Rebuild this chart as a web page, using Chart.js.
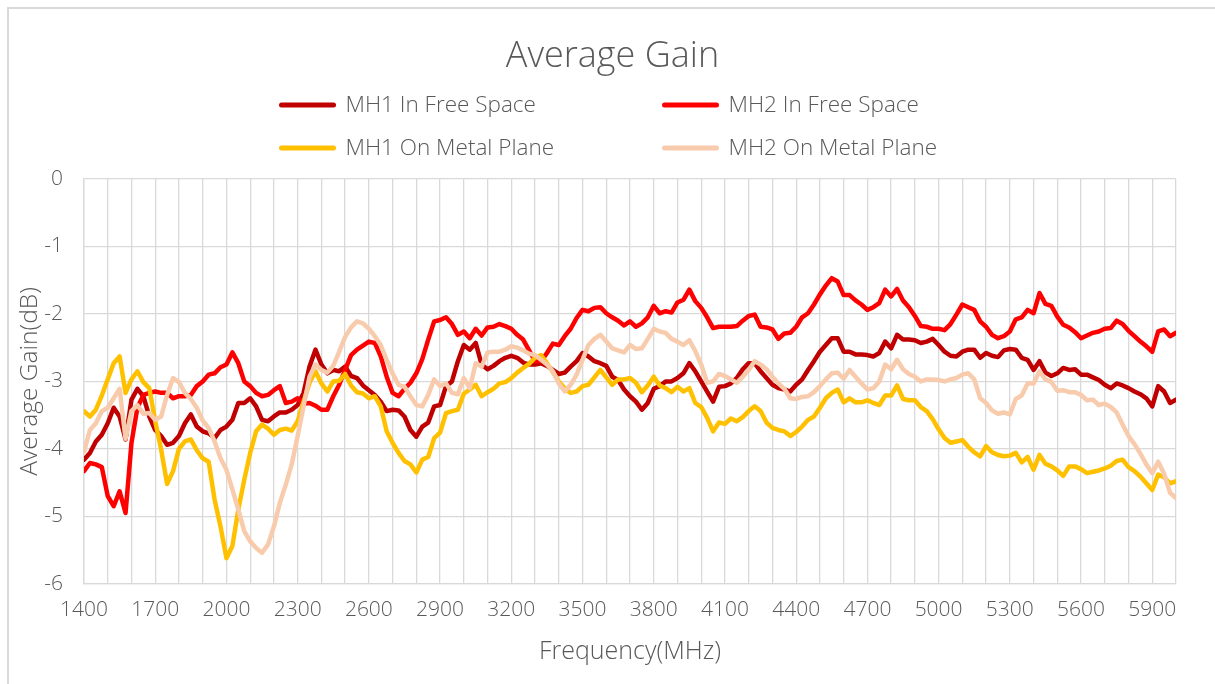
<!DOCTYPE html>
<html>
<head>
<meta charset="utf-8">
<title>Average Gain</title>
<script src="https://cdn.jsdelivr.net/npm/chart.js@4/dist/chart.umd.min.js"></script>
<style>
    html, body { margin: 0; padding: 0; background: #fff; }
    .wrap { position: relative; width: 1215px; height: 684px; overflow: hidden; }
    .frame { position: absolute; left: 7px; top: 7px; width: 1220px; height: 690px; border: 2px solid #d9d9d9; box-sizing: border-box; }
    canvas { position: absolute; left: 0; top: 0; }
</style>
</head>
<body>
<div class="wrap">
    <div class="frame"></div>
    <canvas id="gainChart" width="1215" height="684"></canvas>
</div>
<script>
// Frequency points (MHz)
const freqs = [
    1400, 1425, 1450, 1475, 1500, 1525, 1550, 1575, 1600, 1625, 1650, 1675, 1700, 1725, 1750, 1775,
    1800, 1825, 1850, 1875, 1900, 1925, 1950, 1975, 2000, 2025, 2050, 2075, 2100, 2125, 2150, 2175,
    2200, 2225, 2250, 2275, 2300, 2325, 2350, 2375, 2400, 2425, 2450, 2475, 2500, 2525, 2550, 2575,
    2600, 2625, 2650, 2675, 2700, 2725, 2750, 2775, 2800, 2825, 2850, 2875, 2900, 2925, 2950, 2975,
    3000, 3025, 3050, 3075, 3100, 3125, 3150, 3175, 3200, 3225, 3250, 3275, 3300, 3325, 3350, 3375,
    3400, 3425, 3450, 3475, 3500, 3525, 3550, 3575, 3600, 3625, 3650, 3675, 3700, 3725, 3750, 3775,
    3800, 3825, 3850, 3875, 3900, 3925, 3950, 3975, 4000, 4025, 4050, 4075, 4100, 4125, 4150, 4175,
    4200, 4225, 4250, 4275, 4300, 4325, 4350, 4375, 4400, 4425, 4450, 4475, 4500, 4525, 4550, 4575,
    4600, 4625, 4650, 4675, 4700, 4725, 4750, 4775, 4800, 4825, 4850, 4875, 4900, 4925, 4950, 4975,
    5000, 5025, 5050, 5075, 5100, 5125, 5150, 5175, 5200, 5225, 5250, 5275, 5300, 5325, 5350, 5375,
    5400, 5425, 5450, 5475, 5500, 5525, 5550, 5575, 5600, 5625, 5650, 5675, 5700, 5725, 5750, 5775,
    5800, 5825, 5850, 5875, 5900, 5925, 5950, 5975, 6000
];

// Average gain (dB)
const mh1Free = [
    -4.16, -4.06, -3.89, -3.79, -3.62, -3.39, -3.52, -3.86, -3.27, -3.11, -3.22, -3.52, -3.72, -3.81, -3.94, -3.91,
    -3.81, -3.62, -3.49, -3.67, -3.74, -3.77, -3.84, -3.72, -3.67, -3.57, -3.32, -3.32, -3.25, -3.37, -3.57, -3.59,
    -3.52, -3.46, -3.46, -3.42, -3.35, -3.17, -2.78, -2.53, -2.75, -2.88, -2.83, -2.85, -2.78, -2.92, -2.95, -3.06,
    -3.13, -3.20, -3.30, -3.44, -3.42, -3.43, -3.52, -3.72, -3.82, -3.67, -3.61, -3.37, -3.35, -3.07, -3.00, -2.70,
    -2.46, -2.53, -2.43, -2.75, -2.82, -2.77, -2.70, -2.65, -2.62, -2.65, -2.72, -2.75, -2.75, -2.73, -2.77, -2.83,
    -2.89, -2.87, -2.78, -2.70, -2.58, -2.63, -2.70, -2.73, -2.77, -2.93, -2.98, -3.12, -3.22, -3.30, -3.42, -3.32,
    -3.11, -3.07, -3.00, -3.00, -2.95, -2.88, -2.73, -2.85, -3.00, -3.15, -3.30, -3.08, -3.07, -3.03, -2.95, -2.82,
    -2.73, -2.73, -2.85, -2.95, -3.05, -3.10, -3.12, -3.15, -3.05, -2.97, -2.83, -2.70, -2.56, -2.46, -2.36, -2.36,
    -2.56, -2.56, -2.60, -2.60, -2.61, -2.63, -2.58, -2.41, -2.51, -2.31, -2.38, -2.38, -2.39, -2.43, -2.41, -2.37,
    -2.46, -2.56, -2.62, -2.63, -2.56, -2.53, -2.53, -2.65, -2.58, -2.62, -2.64, -2.54, -2.52, -2.53, -2.65, -2.68,
    -2.83, -2.70, -2.87, -2.92, -2.88, -2.80, -2.83, -2.82, -2.90, -2.90, -2.94, -2.98, -3.05, -3.10, -3.03, -3.06,
    -3.10, -3.15, -3.19, -3.25, -3.37, -3.07, -3.15, -3.32, -3.27
];
const mh2Free = [
    -4.33, -4.21, -4.23, -4.27, -4.70, -4.85, -4.63, -4.95, -3.91, -3.39, -3.20, -3.17, -3.15, -3.17, -3.17, -3.25,
    -3.22, -3.22, -3.20, -3.07, -3.00, -2.90, -2.88, -2.79, -2.75, -2.57, -2.73, -3.00, -3.07, -3.17, -3.22, -3.20,
    -3.13, -3.07, -3.32, -3.30, -3.25, -3.33, -3.32, -3.36, -3.42, -3.42, -3.22, -3.05, -2.83, -2.61, -2.53, -2.47,
    -2.41, -2.43, -2.63, -2.93, -3.17, -3.22, -3.11, -3.02, -2.88, -2.67, -2.38, -2.11, -2.09, -2.05, -2.15, -2.31,
    -2.26, -2.36, -2.22, -2.32, -2.20, -2.19, -2.15, -2.18, -2.22, -2.31, -2.38, -2.54, -2.70, -2.70, -2.58, -2.44,
    -2.46, -2.33, -2.22, -2.06, -1.94, -1.96, -1.91, -1.90, -1.99, -2.05, -2.10, -2.17, -2.11, -2.19, -2.14, -2.05,
    -1.88, -1.99, -1.96, -1.98, -1.83, -1.79, -1.64, -1.81, -1.91, -2.05, -2.21, -2.19, -2.19, -2.19, -2.18, -2.10,
    -2.03, -2.01, -2.19, -2.20, -2.23, -2.37, -2.29, -2.28, -2.19, -2.05, -1.99, -1.86, -1.71, -1.58, -1.47, -1.52,
    -1.72, -1.72, -1.80, -1.86, -1.94, -1.90, -1.84, -1.64, -1.74, -1.63, -1.80, -1.90, -2.03, -2.18, -2.19, -2.22,
    -2.22, -2.24, -2.15, -2.01, -1.86, -1.90, -1.94, -2.11, -2.19, -2.31, -2.36, -2.33, -2.26, -2.08, -2.05, -1.94,
    -1.99, -1.69, -1.85, -1.88, -2.04, -2.16, -2.20, -2.27, -2.36, -2.32, -2.28, -2.26, -2.22, -2.21, -2.10, -2.15,
    -2.25, -2.33, -2.41, -2.48, -2.56, -2.26, -2.23, -2.33, -2.28
];
const mh1Metal = [
    -3.44, -3.52, -3.42, -3.21, -2.97, -2.73, -2.63, -3.17, -2.97, -2.85, -3.01, -3.10, -3.59, -4.01, -4.52, -4.33,
    -4.00, -3.89, -3.86, -4.02, -4.14, -4.19, -4.75, -5.15, -5.62, -5.44, -4.90, -4.46, -4.06, -3.74, -3.64, -3.70,
    -3.79, -3.72, -3.70, -3.73, -3.59, -3.30, -3.02, -2.85, -3.03, -3.15, -3.00, -2.99, -2.89, -3.06, -3.16, -3.18,
    -3.25, -3.22, -3.37, -3.74, -3.91, -4.06, -4.18, -4.23, -4.35, -4.16, -4.12, -3.84, -3.76, -3.47, -3.44, -3.42,
    -3.18, -3.12, -3.05, -3.22, -3.16, -3.11, -3.03, -3.01, -2.95, -2.87, -2.80, -2.74, -2.65, -2.61, -2.73, -2.86,
    -3.00, -3.10, -3.17, -3.15, -3.07, -3.05, -2.94, -2.83, -2.94, -3.05, -2.97, -2.97, -2.95, -3.02, -3.16, -3.06,
    -2.93, -3.06, -3.10, -3.16, -3.08, -3.15, -3.10, -3.32, -3.38, -3.54, -3.74, -3.61, -3.63, -3.55, -3.59, -3.53,
    -3.44, -3.37, -3.44, -3.61, -3.69, -3.72, -3.74, -3.81, -3.75, -3.67, -3.57, -3.52, -3.39, -3.25, -3.17, -3.12,
    -3.31, -3.25, -3.31, -3.31, -3.28, -3.32, -3.35, -3.21, -3.21, -3.06, -3.26, -3.28, -3.28, -3.38, -3.44, -3.56,
    -3.71, -3.84, -3.91, -3.89, -3.87, -3.97, -4.05, -4.11, -3.96, -4.05, -4.09, -4.11, -4.10, -4.06, -4.20, -4.12,
    -4.31, -4.09, -4.22, -4.26, -4.32, -4.40, -4.26, -4.26, -4.30, -4.36, -4.34, -4.32, -4.29, -4.25, -4.18, -4.16,
    -4.27, -4.33, -4.41, -4.51, -4.61, -4.38, -4.42, -4.51, -4.48
];
const mh2Metal = [
    -4.04, -3.72, -3.62, -3.44, -3.39, -3.25, -3.11, -3.85, -3.44, -3.35, -3.48, -3.47, -3.57, -3.52, -3.20, -2.95,
    -3.01, -3.17, -3.26, -3.39, -3.58, -3.69, -3.89, -4.14, -4.31, -4.60, -4.90, -5.22, -5.37, -5.47, -5.54, -5.42,
    -5.15, -4.80, -4.53, -4.23, -3.81, -3.37, -2.93, -2.75, -2.83, -2.87, -2.77, -2.56, -2.34, -2.20, -2.11, -2.14,
    -2.22, -2.33, -2.46, -2.68, -2.88, -3.05, -3.08, -3.22, -3.35, -3.37, -3.20, -2.97, -3.07, -3.03, -3.17, -3.19,
    -2.95, -3.10, -2.73, -2.78, -2.57, -2.56, -2.56, -2.53, -2.48, -2.50, -2.54, -2.59, -2.61, -2.68, -2.75, -2.85,
    -3.03, -3.15, -3.05, -2.90, -2.68, -2.46, -2.37, -2.31, -2.41, -2.51, -2.54, -2.57, -2.46, -2.52, -2.51, -2.37,
    -2.22, -2.26, -2.28, -2.37, -2.41, -2.46, -2.39, -2.55, -2.75, -3.02, -3.00, -2.89, -2.92, -2.97, -3.02, -2.93,
    -2.83, -2.70, -2.75, -2.82, -2.93, -3.03, -3.11, -3.25, -3.26, -3.23, -3.22, -3.16, -3.07, -2.97, -2.88, -2.87,
    -2.96, -2.83, -2.93, -3.03, -3.12, -3.10, -3.00, -2.75, -2.82, -2.68, -2.82, -2.89, -2.93, -3.00, -2.97, -2.97,
    -2.98, -3.00, -2.97, -2.95, -2.90, -2.88, -2.97, -3.25, -3.32, -3.43, -3.48, -3.46, -3.49, -3.26, -3.21, -3.03,
    -3.03, -2.85, -2.97, -3.01, -3.14, -3.13, -3.16, -3.16, -3.20, -3.28, -3.27, -3.35, -3.33, -3.38, -3.46, -3.64,
    -3.81, -3.93, -4.07, -4.23, -4.36, -4.19, -4.37, -4.65, -4.73
];

const chartTitle = 'Average Gain';
const seriesNames = ['MH1 In Free Space', 'MH2 In Free Space', 'MH1 On Metal Plane', 'MH2 On Metal Plane'];
const seriesColors = ['#C00000', '#FF0000', '#FFC000', '#F8CBAD'];
const xTickLabels = [1400, 1700, 2000, 2300, 2600, 2900, 3200, 3500, 3800, 4100, 4400, 4700, 5000, 5300, 5600, 5900];

const TEXT = '#595959';
const GRID = '#d9d9d9';
const FONT = '"Open Sans", "Noto Sans", sans-serif';
Chart.defaults.font.family = FONT;
Chart.defaults.font.weight = 300;
Chart.defaults.color = TEXT;

// title + legend (2 x 2 grid) drawn in the header band like the original
const header = {
    id: 'header',
    afterDraw(chart) {
        const ctx = chart.ctx;
        const cx = chart.width / 2;
        ctx.save();
        ctx.fillStyle = TEXT;
        ctx.textAlign = 'center';
        ctx.textBaseline = 'alphabetic';
        ctx.font = '300 36px ' + FONT;
        ctx.fillText(chartTitle, cx + 5, 67);

        const cols = [cx - 328, cx + 55];
        const rows = [105, 148];
        ctx.font = '300 22.5px ' + FONT;
        ctx.textBaseline = 'middle';
        ctx.textAlign = 'left';
        chart.data.datasets.forEach((ds, i) => {
            const x = cols[i % 2];
            const y = rows[Math.floor(i / 2)];
            ctx.strokeStyle = ds.borderColor;
            ctx.lineWidth = 5;
            ctx.lineCap = 'round';
            ctx.beginPath();
            ctx.moveTo(x + 2, y);
            ctx.lineTo(x + 54, y);
            ctx.stroke();
            ctx.fillStyle = TEXT;
            ctx.fillText(ds.label, x + 66, y + 1);
        });
        ctx.restore();
    }
};

const series = [mh1Free, mh2Free, mh1Metal, mh2Metal];
const datasets = series.map((vals, i) => ({
    label: seriesNames[i],
    data: freqs.map((f, j) => ({ x: f, y: vals[j] })),
    borderColor: seriesColors[i],
    backgroundColor: seriesColors[i],
    borderWidth: 4.5,
    borderJoinStyle: 'round',
    borderCapStyle: 'round',
    pointRadius: 0,
    tension: 0,
    order: 4 - i
}));

new Chart(document.getElementById('gainChart'), {
    type: 'line',
    data: { datasets: datasets },
    options: {
        responsive: false,
        animation: false,
        layout: { padding: { top: 179, left: 14, right: 39, bottom: 14 } },
        plugins: {
            legend: { display: false },
            tooltip: { enabled: false },
            title: { display: false }
        },
        scales: {
            x: {
                type: 'linear',
                min: 1400,
                max: 6000,
                grid: { color: GRID, lineWidth: 1.3, drawTicks: false },
                border: { color: GRID, width: 1.3 },
                ticks: {
                    stepSize: 100,
                    autoSkip: false,
                    maxRotation: 0,
                    padding: 14,
                    color: TEXT,
                    font: { size: 21 },
                    callback: (v) => xTickLabels.includes(v) ? String(v) : ''
                },
                title: {
                    display: true,
                    text: 'Frequency(MHz)',
                    color: TEXT,
                    font: { size: 25 },
                    padding: { top: 0, bottom: 3 }
                }
            },
            y: {
                min: -6,
                max: 0,
                afterFit: (scale) => { scale.width = 70; },
                grid: { color: GRID, lineWidth: 1.3, drawTicks: false },
                border: { color: GRID, width: 1.3 },
                ticks: {
                    stepSize: 1,
                    padding: 21,
                    color: TEXT,
                    font: { size: 21 }
                },
                title: {
                    display: true,
                    text: 'Average Gain(dB)',
                    color: TEXT,
                    font: { size: 24.5 },
                    padding: { top: 1, bottom: 0 }
                }
            }
        }
    },
    plugins: [header]
});
</script>
</body>
</html>
